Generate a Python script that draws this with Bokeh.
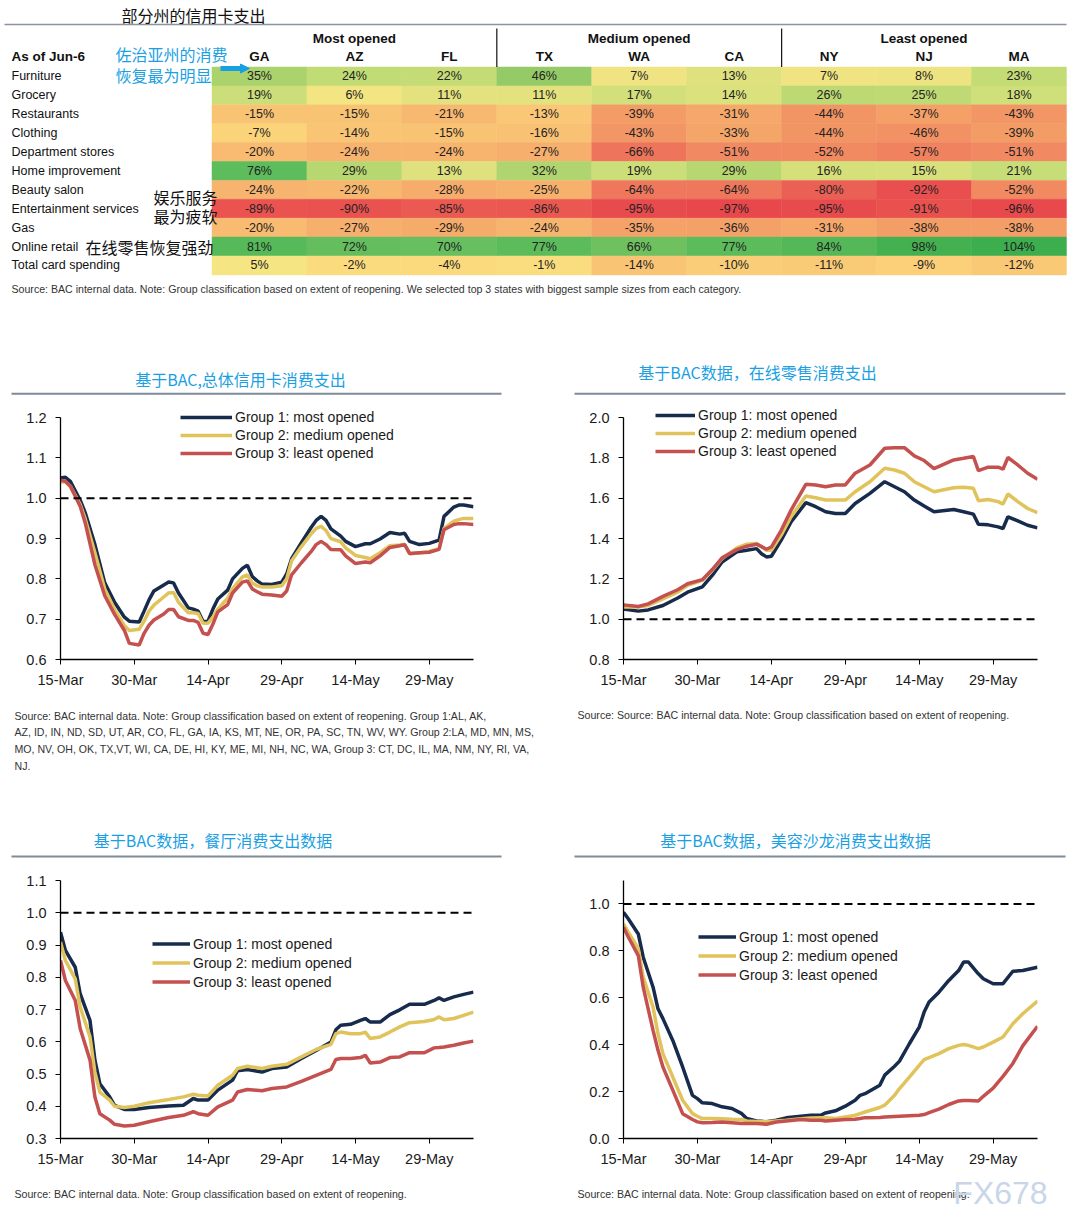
import numpy as np
from bokeh.plotting import figure
from bokeh.layouts import column, row
from bokeh.models import (Range1d, FixedTicker, Span, Legend, LegendItem, Arrow,
                          NormalHead, NumeralTickFormatter)
from bokeh.core.properties import value
from bokeh.embed import file_html
from bokeh.resources import INLINE

# ---------------------------------------------------------------- table data
categories = ["Furniture", "Grocery", "Restaurants", "Clothing", "Department stores",
              "Home improvement", "Beauty salon", "Entertainment services", "Gas",
              "Online retail", "Total card spending"]
states = ["GA", "AZ", "FL", "TX", "WA", "CA", "NY", "NJ", "MA"]
state_groups = ["Most opened", "Medium opened", "Least opened"]
ga = [35, 19, -15, -7, -20, 76, -24, -89, -20, 81, 5]
az = [24, 6, -15, -14, -24, 29, -22, -90, -27, 72, -2]
fl = [22, 11, -21, -15, -24, 13, -28, -85, -29, 70, -4]
tx = [46, 11, -13, -16, -27, 32, -25, -86, -24, 77, -1]
wa = [7, 17, -39, -43, -66, 19, -64, -95, -35, 66, -14]
ca = [13, 14, -31, -33, -51, 29, -64, -97, -36, 77, -10]
ny = [7, 26, -44, -44, -52, 16, -80, -95, -31, 84, -11]
nj = [8, 25, -37, -46, -57, 15, -92, -91, -38, 98, -9]
ma = [23, 18, -43, -39, -51, 21, -52, -96, -38, 104, -12]
state_values = [ga, az, fl, tx, wa, ca, ny, nj, ma]

# ---------------------------------------------------------------- line data
tick_days = [0, 15, 30, 45, 60, 75]
tick_labels = ["15-Mar", "30-Mar", "14-Apr", "29-Apr", "14-May", "29-May"]
group_names = ["Group 1: most opened", "Group 2: medium opened", "Group 3: least opened"]

# total card spending (days since 15-Mar)
total_days = [0, 1, 2, 4, 5, 7, 9, 11, 13, 14, 16, 17, 18, 19, 21, 22, 23, 24, 26, 27,
              28, 29, 30, 31, 32, 34, 35, 37, 38, 39, 40, 41, 43, 45, 46, 47, 49, 51, 52, 53,
              54, 55, 57, 58, 60, 62, 63, 65, 67, 69, 70, 71, 73, 75, 77, 78, 80, 81, 82, 84]
total_g1 = [1.05, 1.052, 1.042, 0.995, 0.965, 0.885, 0.79, 0.742, 0.705, 0.695,
            0.693, 0.72, 0.748, 0.77, 0.785, 0.792, 0.79, 0.765, 0.728, 0.725,
            0.72, 0.694, 0.695, 0.725, 0.75, 0.772, 0.8, 0.826, 0.834, 0.806,
            0.795, 0.787, 0.786, 0.792, 0.812, 0.85, 0.89, 0.928, 0.945, 0.955,
            0.945, 0.924, 0.906, 0.893, 0.88, 0.887, 0.887, 0.899, 0.915, 0.911,
            0.913, 0.893, 0.885, 0.888, 0.896, 0.955, 0.978, 0.983, 0.983, 0.979]
total_g2 = [1.04, 1.04, 1.03, 0.985, 0.95, 0.865, 0.775, 0.724, 0.684, 0.672,
            0.675, 0.695, 0.72, 0.735, 0.755, 0.765, 0.766, 0.742, 0.716, 0.716,
            0.714, 0.69, 0.69, 0.705, 0.725, 0.752, 0.775, 0.805, 0.81, 0.79,
            0.783, 0.78, 0.78, 0.783, 0.8, 0.845, 0.88, 0.912, 0.925, 0.93,
            0.92, 0.9, 0.892, 0.877, 0.858, 0.853, 0.85, 0.865, 0.882, 0.884,
            0.886, 0.862, 0.864, 0.868, 0.875, 0.925, 0.943, 0.947, 0.95, 0.95]
total_g3 = [1.045, 1.042, 1.03, 0.98, 0.94, 0.835, 0.758, 0.712, 0.672, 0.64,
            0.636, 0.665, 0.685, 0.698, 0.713, 0.724, 0.724, 0.706, 0.697, 0.697,
            0.692, 0.665, 0.662, 0.688, 0.718, 0.736, 0.765, 0.792, 0.795, 0.775,
            0.768, 0.762, 0.76, 0.757, 0.77, 0.81, 0.84, 0.868, 0.885, 0.893,
            0.885, 0.873, 0.872, 0.857, 0.838, 0.842, 0.84, 0.857, 0.878, 0.882,
            0.885, 0.863, 0.865, 0.866, 0.873, 0.922, 0.935, 0.937, 0.937, 0.935]

# online retail
online_days = [0, 3, 5, 8, 11, 13, 16, 18, 20, 23, 25, 27, 28, 29, 30, 32, 34, 37, 39, 41,
               43, 45, 47, 50, 53, 55, 57, 59, 61, 63, 67, 69, 71, 72, 74, 76, 77, 78, 80, 82, 84]
online_g1 = [1.051, 1.04, 1.046, 1.068, 1.105, 1.134, 1.16, 1.217, 1.284, 1.334,
             1.342, 1.35, 1.325, 1.309, 1.312, 1.392, 1.483, 1.578, 1.558, 1.533,
             1.524, 1.524, 1.574, 1.624, 1.682, 1.657, 1.632, 1.591, 1.561, 1.533,
             1.544, 1.533, 1.521, 1.471, 1.468, 1.458, 1.45, 1.508, 1.488, 1.466, 1.453]
online_g2 = [1.06, 1.06, 1.068, 1.101, 1.134, 1.168, 1.193, 1.242, 1.3, 1.354,
             1.372, 1.375, 1.36, 1.342, 1.342, 1.417, 1.508, 1.611, 1.602, 1.591,
             1.591, 1.591, 1.632, 1.682, 1.749, 1.74, 1.724, 1.682, 1.657, 1.632,
             1.652, 1.654, 1.649, 1.588, 1.594, 1.583, 1.571, 1.621, 1.583, 1.549, 1.528]
online_g3 = [1.071, 1.063, 1.076, 1.113, 1.146, 1.176, 1.196, 1.246, 1.304, 1.345,
             1.362, 1.372, 1.36, 1.347, 1.358, 1.441, 1.541, 1.669, 1.666, 1.657,
             1.666, 1.666, 1.724, 1.765, 1.848, 1.851, 1.851, 1.81, 1.787, 1.747,
             1.79, 1.798, 1.807, 1.737, 1.754, 1.754, 1.744, 1.802, 1.765, 1.724, 1.694]

# restaurants
rest_days = [0, 1, 3, 4, 6, 7, 8, 10, 11, 13, 15, 18, 22, 25, 27, 28, 30, 32, 35, 36,
             38, 41, 43, 46, 49, 52, 55, 56, 57, 59, 61, 62, 63, 65, 67, 69, 71, 74, 76, 77,
             78, 80, 82, 84]
rest_g1 = [0.94, 0.883, 0.831, 0.749, 0.666, 0.543, 0.47, 0.429, 0.403, 0.39,
           0.39, 0.396, 0.401, 0.403, 0.424, 0.419, 0.419, 0.45, 0.481, 0.51,
           0.514, 0.506, 0.517, 0.522, 0.548, 0.573, 0.599, 0.637, 0.651, 0.654,
           0.666, 0.672, 0.661, 0.661, 0.684, 0.699, 0.716, 0.716, 0.728, 0.736,
           0.728, 0.739, 0.747, 0.754]
rest_g2 = [0.909, 0.852, 0.795, 0.708, 0.615, 0.506, 0.444, 0.419, 0.4, 0.396,
           0.4, 0.411, 0.421, 0.429, 0.437, 0.434, 0.432, 0.465, 0.496, 0.517,
           0.524, 0.517, 0.524, 0.53, 0.553, 0.576, 0.592, 0.625, 0.63, 0.625,
           0.625, 0.63, 0.61, 0.615, 0.63, 0.646, 0.659, 0.663, 0.669, 0.677,
           0.668, 0.672, 0.682, 0.692]
rest_g3 = [0.852, 0.79, 0.728, 0.641, 0.543, 0.429, 0.377, 0.357, 0.344, 0.339,
           0.341, 0.352, 0.365, 0.372, 0.383, 0.377, 0.372, 0.398, 0.419, 0.444,
           0.452, 0.448, 0.455, 0.46, 0.477, 0.496, 0.514, 0.545, 0.548, 0.548,
           0.551, 0.558, 0.534, 0.537, 0.551, 0.553, 0.566, 0.566, 0.581, 0.582,
           0.584, 0.589, 0.596, 0.602]

# beauty salon
salon_days = [0, 1, 3, 4, 6, 7, 8, 10, 12, 14, 15, 16, 18, 20, 22, 24, 25, 27, 29, 31,
              33, 36, 38, 40, 41, 43, 45, 47, 48, 49, 52, 53, 55, 56, 58, 60, 61, 62, 64, 66,
              68, 69, 70, 72, 73, 75, 77, 79, 81, 84]
salon_g1 = [0.965, 0.936, 0.872, 0.773, 0.645, 0.553, 0.511, 0.418, 0.305, 0.184,
            0.17, 0.152, 0.149, 0.135, 0.128, 0.106, 0.085, 0.075, 0.071, 0.078,
            0.088, 0.095, 0.099, 0.099, 0.109, 0.118, 0.138, 0.163, 0.184, 0.191,
            0.227, 0.27, 0.308, 0.33, 0.404, 0.475, 0.539, 0.582, 0.624, 0.674,
            0.716, 0.752, 0.752, 0.702, 0.681, 0.66, 0.66, 0.713, 0.716, 0.73]
salon_g2 = [0.915, 0.879, 0.809, 0.688, 0.56, 0.447, 0.362, 0.262, 0.163, 0.106,
            0.095, 0.085, 0.085, 0.084, 0.082, 0.081, 0.075, 0.072, 0.071, 0.075,
            0.078, 0.084, 0.087, 0.088, 0.088, 0.085, 0.092, 0.099, 0.106, 0.113,
            0.132, 0.142, 0.184, 0.213, 0.262, 0.312, 0.336, 0.345, 0.362, 0.383,
            0.397, 0.401, 0.397, 0.383, 0.39, 0.411, 0.433, 0.489, 0.532, 0.586]
salon_g3 = [0.901, 0.858, 0.78, 0.645, 0.461, 0.376, 0.305, 0.206, 0.106, 0.081,
            0.071, 0.067, 0.068, 0.07, 0.067, 0.064, 0.064, 0.064, 0.061, 0.07,
            0.075, 0.081, 0.078, 0.078, 0.075, 0.078, 0.081, 0.082, 0.085, 0.089,
            0.09, 0.092, 0.094, 0.095, 0.097, 0.099, 0.102, 0.11, 0.125, 0.145,
            0.16, 0.162, 0.162, 0.16, 0.18, 0.215, 0.265, 0.32, 0.395, 0.478]

# ---------------------------------------------------------------- texts
table_title = "部分州的信用卡支出"
table_note = ("Source: BAC internal data. Note: Group classification based on extent of "
              "reopening. We selected top 3 states with biggest sample sizes from each category.")
note_total = ["Source: BAC internal data. Note: Group classification based on extent of reopening. Group 1:AL, AK,",
              "AZ, ID, IN, ND, SD, UT, AR, CO, FL, GA, IA, KS, MT, NE, OR, PA, SC, TN, WV, WY. Group 2:LA, MD, MN, MS,",
              "MO, NV, OH, OK, TX,VT, WI, CA, DE, HI, KY, ME, MI, NH, NC, WA, Group 3: CT, DC, IL, MA, NM, NY, RI, VA,",
              "NJ."]
note_online = "Source: Source: BAC internal data. Note: Group classification based on extent of reopening."
note_plain = "Source: BAC internal data. Note: Group classification based on extent of reopening."
watermark = "FX678"

# ---------------------------------------------------------------- styles
FONT = "Liberation Sans"
CJK = "Noto Sans CJK SC"
BLUE = "#1A9FE3"
NAVY = "#172B4D"
GOLD = "#E1C35C"
RED = "#C4514F"
RULE = "#7E8B98"
NOTE_SIZE = "10.6px"

stops_v = [-97, -60, -30, -15, -5, 5, 20, 40, 75, 104]
stops_c = ["#E8484C", "#EF7D5E", "#F5AA6A", "#F9C374", "#FCD87C", "#F6E583",
           "#C9DE78", "#A0CE69", "#5EBD5D", "#3DAE4E"]
_rgb = np.array([[int(c[i:i + 2], 16) for i in (1, 3, 5)] for c in stops_c], float)


def heat(v):
    ch = [np.interp(v, stops_v, _rgb[:, k]) for k in range(3)]
    return "#%02X%02X%02X" % tuple(int(round(c)) for c in ch)


def blank(w, h):
    p = figure(width=w, height=h, x_range=Range1d(0, w), y_range=Range1d(h, 0),
               toolbar_location=None, output_backend="svg", min_border=0,
               x_axis_type=None, y_axis_type=None, outline_line_color=None)
    p.grid.visible = False
    return p


# ---------------------------------------------------------------- table
TW, TH = 1079, 305
tab = blank(TW, TH)
cx0, cw = 211.5, 94.94
ry0, rh = 66.5, 18.9
xs, ys, cols, labels = [], [], [], []
for i, vals in enumerate(state_values):
    for j, v in enumerate(vals):
        xs.append(cx0 + (i + 0.5) * cw)
        ys.append(ry0 + (j + 0.5) * rh)
        cols.append(heat(v))
        labels.append("%d%%" % v)
tab.rect(x=xs, y=ys, width=cw, height=rh, fill_color=cols, line_color=cols, line_width=0.5)
tab.text(x=xs, y=ys, text=labels, text_align="center", text_baseline="middle",
         text_font=value(FONT), text_font_size="12.5px", text_color="#222222")
row_y = [ry0 + (j + 0.5) * rh for j in range(len(categories))]
tab.text(x=[11] * len(categories), y=row_y, text=categories, text_align="left",
         text_baseline="middle", text_font=value(FONT), text_font_size="12.5px",
         text_color="#111111")
col_x = [cx0 + (i + 0.5) * cw for i in range(len(states))]
tab.text(x=col_x, y=[56] * len(states), text=states, text_align="center",
         text_baseline="middle", text_font=value(FONT), text_font_size="13.5px",
         text_font_style="bold", text_color="#111111")
tab.text(x=[11], y=[56], text=["As of Jun-6"], text_align="left", text_baseline="middle",
         text_font=value(FONT), text_font_size="13.5px", text_font_style="bold",
         text_color="#111111")
tab.text(x=[cx0 + (3 * g + 1.5) * cw for g in range(3)], y=[37.5] * 3, text=state_groups,
         text_align="center", text_baseline="middle", text_font=value(FONT),
         text_font_size="13.5px", text_font_style="bold", text_color="#111111")
tab.segment(x0=[cx0 + 3 * cw, cx0 + 6 * cw], y0=[28, 28], x1=[cx0 + 3 * cw, cx0 + 6 * cw],
            y1=[ry0, ry0], line_color="#111111", line_width=1.2)
tab.segment(x0=[4], y0=[24], x1=[1066], y1=[24], line_color="#8A949E", line_width=1.5)
tab.text(x=[121], y=[14.5], text=[table_title], text_align="left", text_baseline="middle",
         text_font=value(CJK), text_font_size="16px", text_color="#111111")
tab.text(x=[11], y=[288.5], text=[table_note], text_align="left", text_baseline="middle",
         text_font=value(FONT), text_font_size=NOTE_SIZE, text_color="#333333")
# annotations
tab.text(x=[115, 115], y=[53.5, 74], text=["佐治亚州的消费", "恢复最为明显"], text_align="left",
         text_baseline="middle", text_font=value(CJK), text_font_size="16px", text_color=BLUE)
tab.add_layout(Arrow(end=NormalHead(size=9, fill_color=BLUE, line_color=BLUE),
                     x_start=220, y_start=68, x_end=249, y_end=68,
                     line_color=BLUE, line_width=5))
tab.text(x=[153, 153, 85], y=[196, 215, 246], text=["娱乐服务", "最为疲软", "在线零售恢复强劲"],
         text_align="left", text_baseline="middle", text_font=value(CJK),
         text_font_size="16px", text_color="#111111")


# ---------------------------------------------------------------- helpers
def header(w, h, title, tx, ty, lx0, lx1, ly):
    p = blank(w, h)
    p.text(x=[tx], y=[ty], text=[title], text_align="center", text_baseline="middle",
           text_font=value(CJK), text_font_size="16px", text_color=BLUE)
    p.segment(x0=[lx0], y0=[ly], x1=[lx1], y1=[ly], line_color=RULE, line_width=2)
    return p


def notes(w, h, lines, x, ys_):
    p = blank(w, h)
    p.text(x=[x] * len(lines), y=ys_, text=lines, text_align="left", text_baseline="middle",
           text_font=value(FONT), text_font_size=NOTE_SIZE, text_color="#333333")
    return p


def chart(w, h, bl, br, bt, bb, days, g1, g2, g3, y0, y1, ybounds, yticks, loc,
          glyph_w, item_h):
    p = figure(width=w, height=h, x_range=Range1d(0, 84), y_range=Range1d(y0, y1),
               toolbar_location=None, output_backend="svg",
               min_border_left=bl, min_border_right=br, min_border_top=bt,
               min_border_bottom=bb, outline_line_color=None)
    p.grid.visible = False
    p.add_layout(Span(location=1.0, dimension="width", line_color="black",
                      line_width=2, line_dash="8 5"))
    r1 = p.line(days, g1, line_color=NAVY, line_width=3.5)
    r2 = p.line(days, g2, line_color=GOLD, line_width=3.5)
    r3 = p.line(days, g3, line_color=RED, line_width=3.5)
    ax = p.xaxis[0]
    ax.ticker = FixedTicker(ticks=tick_days)
    ax.major_label_overrides = dict(zip(tick_days, tick_labels))
    ay = p.yaxis[0]
    ay.ticker = FixedTicker(ticks=yticks)
    ay.formatter = NumeralTickFormatter(format="0.0")
    ay.bounds = ybounds
    for a in (ax, ay):
        a.axis_line_color = "black"
        a.axis_line_width = 1.3
        a.major_tick_line_color = "black"
        a.major_tick_out = 5
        a.major_tick_in = 0
        a.minor_tick_line_color = None
        a.major_label_text_font = FONT
        a.major_label_text_font_size = "14.5px"
        a.major_label_text_color = "#1A1A1A"
    ax.major_label_standoff = 7
    ay.major_label_standoff = 9
    leg = Legend(items=[LegendItem(label=n, renderers=[r])
                        for n, r in zip(group_names, [r1, r2, r3])],
                 location=loc, orientation="vertical", glyph_width=glyph_w,
                 glyph_height=item_h, label_height=item_h, spacing=0, padding=0,
                 margin=0, label_standoff=3, border_line_color=None,
                 background_fill_alpha=0, label_text_font=FONT,
                 label_text_font_size="14px", label_text_color="#1A1A1A")
    p.add_layout(leg)
    return p


# ---------------------------------------------------------------- panels
hA = header(539, 95, "基于BAC,总体信用卡消费支出", 240, 73.3, 11, 501, 88.3)
hB = header(540, 95, "基于BAC数据，在线零售消费支出", 218, 66.7, 35, 526, 88.3)
cA = chart(539, 295, 60, 66, 5, 36, total_days, total_g1, total_g2, total_g3,
           0.6, 1.23, (0.6, 1.2), [0.6, 0.7, 0.8, 0.9, 1.0, 1.1, 1.2], (120, 197), 52, 18)
cB = chart(540, 295, 84, 42, 5, 36, online_days, online_g1, online_g2, online_g3,
           0.8, 2.06, (0.8, 2.0), [0.8, 1.0, 1.2, 1.4, 1.6, 1.8, 2.0], (32, 199), 40, 18)
nA = notes(539, 95, note_total, 14, [20, 36.7, 53.3, 70])
nB = notes(540, 95, [note_online], 38, [19.5])

hC = header(539, 75, "基于BAC数据，餐厅消费支出数据", 212.5, 49.3, 11, 501, 66)
hD = header(540, 75, "基于BAC数据，美容沙龙消费支出数据", 256, 49.3, 35, 526, 66)
cC = chart(539, 310, 60, 66, 15, 37, rest_days, rest_g1, rest_g2, rest_g3,
           0.3, 1.1, (0.3, 1.1), [0.3, 0.4, 0.5, 0.6, 0.7, 0.8, 0.9, 1.0, 1.1],
           (92, 147), 38, 19)
cD = chart(540, 310, 84, 42, 15, 37, salon_days, salon_g1, salon_g2, salon_g3,
           0.0, 1.1, (0.0, 1.1), [0.0, 0.2, 0.4, 0.6, 0.8, 1.0], (75, 154), 38, 19)
nC = notes(539, 52, [note_plain], 14, [18])
nD = notes(540, 52, [note_plain], 38, [18])
nD.text(x=[461], y=[17], text=[watermark], text_align="center", text_baseline="middle",
        text_font=value("Liberation Sans"), text_font_size="32px", text_color="#C9D6E8")

page = column(tab,
              row(hA, hB), row(cA, cB), row(nA, nB),
              row(hC, hD), row(cC, cD), row(nC, nD))

open("out.html", "w").write(file_html(page, INLINE))
